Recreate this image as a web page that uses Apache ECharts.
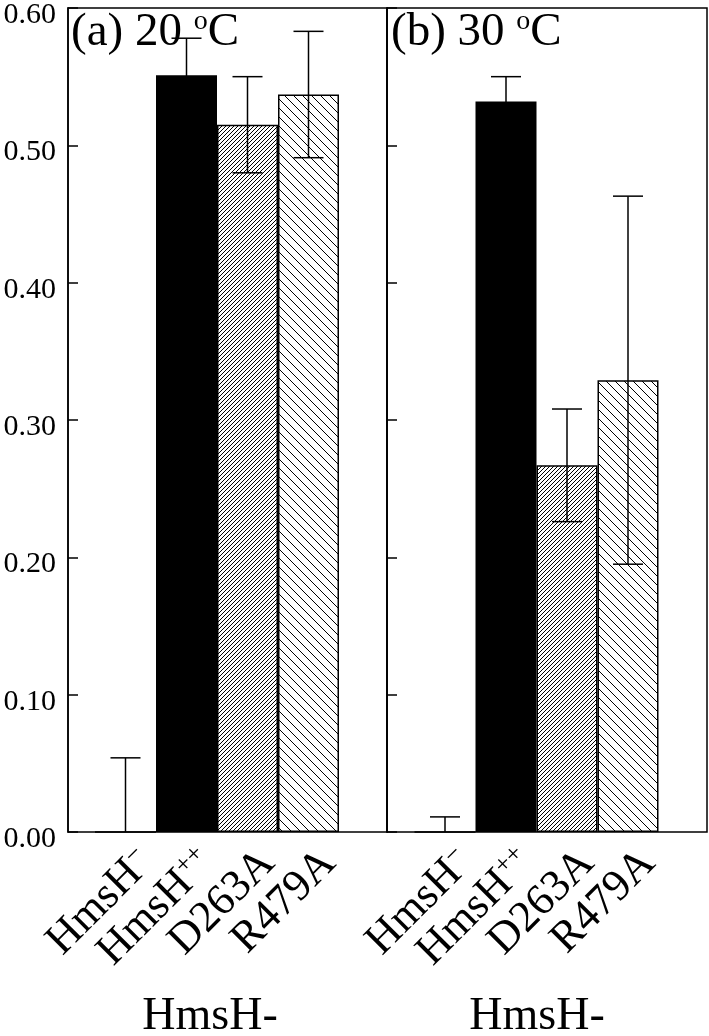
<!DOCTYPE html>
<html>
<head>
<meta charset="utf-8">
<script src="https://cdn.jsdelivr.net/npm/echarts@6/dist/echarts.min.js"></script>
<style>
html,body{margin:0;padding:0;background:#fff;}
#chart{width:709px;height:1036px;}
</style>
</head>
<body>
<div id="chart"></div>
<script>
// ---- data ----
const categories = ['HmsH−', 'HmsH++', 'D263A', 'R479A'];
const yTicks = [0, 0.1, 0.2, 0.3, 0.4, 0.5, 0.6];
const panelTitles = ['(a) 20 ', '(b) 30 '];
const groupLabel = 'HmsH-';
const valuesA = [0, 0.551, 0.515, 0.537];
const errorsA = [0.054, 0.027, 0.035, 0.046];
const valuesB = [0, 0.532, 0.267, 0.329];
const errorsB = [0.011, 0.018, 0.041, 0.134];

const FONT = '"Liberation Serif", "Times New Roman", serif';

function hatch(p, dir) {
  const c = document.createElement('canvas');
  c.width = p; c.height = p;
  const ctx = c.getContext('2d');
  ctx.fillStyle = '#fff';
  ctx.fillRect(0, 0, p, p);
  ctx.strokeStyle = '#000';
  ctx.lineWidth = 1;
  ctx.beginPath();
  for (let k = -1; k <= 1; k++) {
    if (dir === '/') { ctx.moveTo(k * p, p); ctx.lineTo(k * p + p, 0); }
    else { ctx.moveTo(k * p, 0); ctx.lineTo(k * p + p, p); }
  }
  ctx.stroke();
  return c;
}
const fills = [
  '#ffffff',
  '#000000',
  { image: hatch(4, '/'), repeat: 'repeat' },
  { image: hatch(9, '\\'), repeat: 'repeat' }
];

const chart = echarts.init(document.getElementById('chart'), null, { renderer: 'canvas' });

const TOP = 8, HEIGHT = 824;
const frames = [{ left: 68, width: 319 }, { left: 387, width: 320 }];
const barGrids = [{ left: 95, width: 244 }, { left: 414.5, width: 244 }];

const grids = [], xAxes = [], yAxes = [], series = [];
const panels = [[valuesA, errorsA], [valuesB, errorsB]];

panels.forEach(([vals, errs], p) => {
  const gFrame = grids.length;
  grids.push({ left: frames[p].left, width: frames[p].width, top: TOP, height: HEIGHT,
    outerBoundsMode: 'none', containLabel: false,
    show: true, borderColor: '#000', borderWidth: 1.5, backgroundColor: 'transparent' });
  xAxes.push({ gridIndex: gFrame, type: 'value', min: 0, max: 1, show: false });
  yAxes.push({ gridIndex: gFrame, type: 'value', min: 0, max: 0.6, interval: 0.1,
    axisLine: { show: true, lineStyle: { color: '#000', width: 1.5 } },
    axisTick: { show: true, inside: true, length: 10, lineStyle: { color: '#000', width: 1.5 } },
    splitLine: { show: false },
    axisLabel: { show: p === 0, color: '#000', fontSize: 30, fontFamily: FONT, margin: 12,
      verticalAlign: 'top', lineHeight: 14, formatter: v => v.toFixed(2) }
  });
  const gBar = grids.length;
  grids.push({ left: barGrids[p].left, width: barGrids[p].width, top: TOP, height: HEIGHT,
    outerBoundsMode: 'none', containLabel: false });
  xAxes.push({ gridIndex: gBar, type: 'category', data: categories,
    axisLine: { show: false }, axisTick: { show: false },
    axisLabel: { interval: 0, rotate: 45, margin: 4, verticalAlign: 'top', align: 'right',
      padding: [6, 0, 0, 0],
      formatter: v => v.startsWith('HmsH') ? '{n|HmsH}{s|' + v.slice(4) + '}' : '{n|' + v + '}',
      rich: {
        n: { fontSize: 44, fontFamily: FONT, color: '#000', lineHeight: 46 },
        s: { fontSize: 26, fontFamily: FONT, color: '#000', verticalAlign: 'top', lineHeight: 24 }
      } }
  });
  yAxes.push({ gridIndex: gBar, type: 'value', min: 0, max: 0.6, show: false });

  series.push({
    type: 'bar', xAxisIndex: gBar, yAxisIndex: gBar, barWidth: '100%', barCategoryGap: 0,
    silent: true, animation: false,
    data: vals.map((v, i) => ({ value: v, itemStyle: { color: fills[i], borderColor: '#000', borderWidth: 1.5 } }))
  });
  series.push({
    type: 'custom', xAxisIndex: gBar, yAxisIndex: gBar, silent: true, animation: false, z: 5,
    data: vals.map((v, i) => [i, v, errs[i]]),
    renderItem: (params, api) => {
      const i = api.value(0), v = api.value(1), e = api.value(2);
      const hi = api.coord([i, v + e]);
      const lo = api.coord([i, Math.max(0, v - e)]);
      const half = 15;
      const st = { stroke: '#000', lineWidth: 1.5 };
      const ch = [
        { type: 'line', shape: { x1: hi[0], y1: hi[1], x2: lo[0], y2: lo[1] }, style: st },
        { type: 'line', shape: { x1: hi[0] - half, y1: hi[1], x2: hi[0] + half, y2: hi[1] }, style: st }
      ];
      if (v - e > 0) ch.push({ type: 'line', shape: { x1: lo[0] - half, y1: lo[1], x2: lo[0] + half, y2: lo[1] }, style: st });
      return { type: 'group', children: ch };
    }
  });
});

const titleRich = {
  n: { fontSize: 47, fontFamily: FONT, fill: '#000', lineHeight: 50 },
  s: { fontSize: 28, fontFamily: FONT, fill: '#000', verticalAlign: 'top', lineHeight: 28 }
};

chart.setOption({
  animation: false,
  backgroundColor: '#fff',
  grid: grids, xAxis: xAxes, yAxis: yAxes, series: series,
  graphic: [
    { type: 'text', left: 71, top: 8, z: 10,
      style: { text: '{n|' + panelTitles[0] + '}{s|o}{n|C}', rich: titleRich, fill: '#000' } },
    { type: 'text', left: 391, top: 8, z: 10,
      style: { text: '{n|' + panelTitles[1] + '}{s|o}{n|C}', rich: titleRich, fill: '#000' } },
    { type: 'text', x: 210, y: 1017, z: 10,
      style: { text: groupLabel, fontSize: 46, fontFamily: FONT, fill: '#000', align: 'center', verticalAlign: 'middle' } },
    { type: 'text', x: 537, y: 1017, z: 10,
      style: { text: groupLabel, fontSize: 46, fontFamily: FONT, fill: '#000', align: 'center', verticalAlign: 'middle' } }
  ]
});
</script>
</body>
</html>
